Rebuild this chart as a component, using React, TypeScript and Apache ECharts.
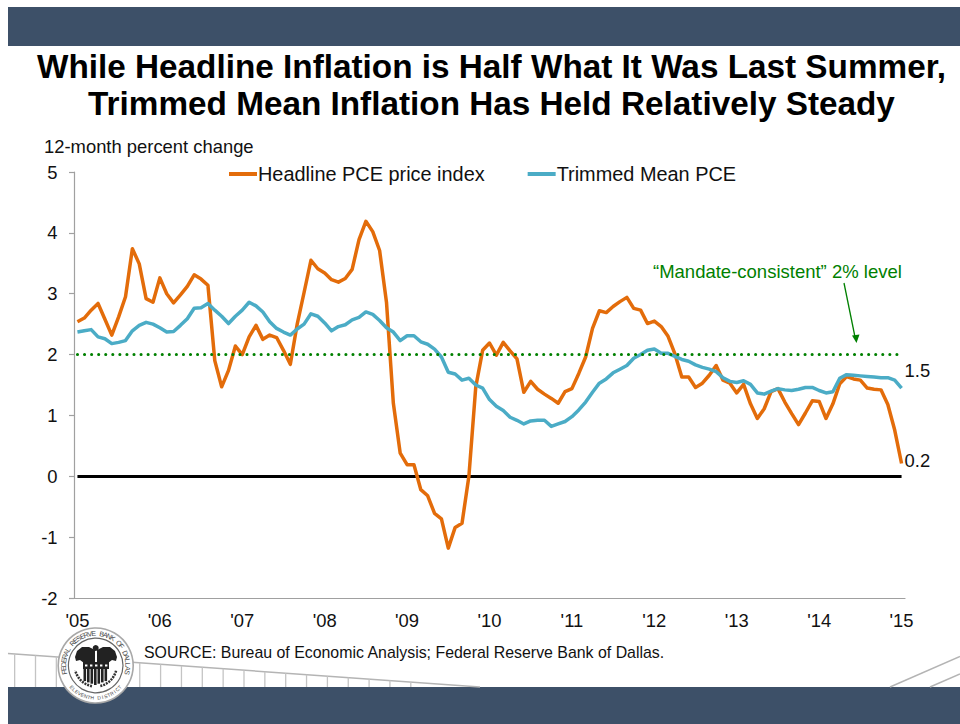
import React, { useEffect, useRef } from "react";
import * as echarts from "echarts";

const FONT = "'Liberation Sans', Arial, sans-serif";

const titleLines = [
  "While Headline Inflation is Half What It Was Last Summer,",
  "Trimmed Mean Inflation Has Held Relatively Steady",
];
const axisCaption = "12-month percent change";
const sourceNote = "SOURCE: Bureau of Economic Analysis; Federal Reserve Bank of Dallas.";
const mandateNote = "\u201CMandate-consistent\u201D 2% level";
const sealTop = "FEDERAL RESERVE BANK OF DALLAS";
const sealBottom = "ELEVENTH DISTRICT";

const years = ["05", "06", "07", "08", "09", "10", "11", "12", "13", "14"];
const monthNames = ["01", "02", "03", "04", "05", "06", "07", "08", "09", "10", "11", "12"];
const categories: string[] = [];
years.forEach((y) => monthNames.forEach((m) => categories.push(`20${y}-${m}`)));
categories.push("2015-01");

const headline = [
  2.54, 2.6, 2.73, 2.84, 2.58, 2.32, 2.62, 2.95, 3.74, 3.49, 2.92, 2.86,
  3.26, 3.0, 2.85, 2.98, 3.12, 3.31, 3.24, 3.14, 1.9, 1.47, 1.74, 2.14,
  2.0, 2.29, 2.48, 2.25, 2.32, 2.28, 2.07, 1.84, 2.5, 3.02, 3.55, 3.41,
  3.34, 3.23, 3.19, 3.25, 3.4, 3.89, 4.19, 4.02, 3.71, 2.86, 1.2, 0.38,
  0.19, 0.19, -0.22, -0.32, -0.61, -0.7, -1.18, -0.84, -0.77, 0.0, 1.47, 2.07,
  2.19, 1.99, 2.2, 2.06, 1.93, 1.38, 1.56, 1.43, 1.35, 1.28, 1.2, 1.39,
  1.44, 1.69, 1.96, 2.43, 2.72, 2.69, 2.79, 2.87, 2.94, 2.76, 2.73, 2.51,
  2.55, 2.46, 2.3, 2.01, 1.63, 1.63, 1.46, 1.53, 1.66, 1.82, 1.58, 1.53,
  1.37, 1.51, 1.19, 0.95, 1.11, 1.39, 1.44, 1.22, 1.03, 0.85, 1.04, 1.24,
  1.23, 0.95, 1.19, 1.52, 1.64, 1.6, 1.58, 1.45, 1.43, 1.42, 1.18, 0.76,
  0.21,
];
const trimmed = [
  2.37, 2.39, 2.41, 2.29, 2.26, 2.18, 2.2, 2.23, 2.39, 2.48, 2.53, 2.5,
  2.44, 2.37, 2.38, 2.48, 2.59, 2.76, 2.77, 2.84, 2.73, 2.63, 2.51, 2.63,
  2.73, 2.86, 2.8, 2.7, 2.54, 2.43, 2.37, 2.32, 2.42, 2.5, 2.67, 2.63,
  2.52, 2.39, 2.46, 2.49, 2.57, 2.61, 2.7, 2.66, 2.56, 2.44, 2.37, 2.23,
  2.31, 2.31, 2.21, 2.17, 2.09, 1.96, 1.71, 1.68, 1.58, 1.61, 1.5, 1.45,
  1.26, 1.15, 1.08, 0.97, 0.92, 0.86, 0.91, 0.92, 0.92, 0.82, 0.86, 0.9,
  0.98, 1.09, 1.22, 1.38, 1.53, 1.6, 1.7, 1.76, 1.82, 1.94, 2.0, 2.07,
  2.09, 2.02, 2.02, 1.97, 1.92, 1.89, 1.83, 1.79, 1.76, 1.72, 1.62, 1.56,
  1.54, 1.57, 1.51, 1.37, 1.35, 1.4, 1.44, 1.42, 1.41, 1.43, 1.46, 1.46,
  1.41, 1.37, 1.39, 1.61, 1.67, 1.66, 1.65, 1.64, 1.63, 1.62, 1.62, 1.58,
  1.45,
];
const headlineEndLabel = "0.2";
const trimmedEndLabel = "1.5";
const mandateLevel = 2;
const zeroLevel = 0;

const NAVY = "#3D5068";
const ORANGE = "#E36C0A";
const TEAL = "#4BACC6";
const GREEN = "#008000";
const RAIL = "#b4b4b4";
const INK = "#111";

function sealLetters(): any[] {
  const cx = 95.7, cy = 665.5, R = 32.2;
  const out: any[] = [];
  const style = { fill: "#444", fontSize: 7, fontFamily: FONT, align: "center", verticalAlign: "middle" };
  const topN = sealTop.length;
  const span = (205 * Math.PI) / 180;
  sealTop.split("").forEach((ch, i) => {
    if (ch === " ") return;
    const a = -span / 2 + (span * i) / (topN - 1);
    out.push({
      type: "text", x: cx + R * Math.sin(a), y: cy - R * Math.cos(a), rotation: -a, z: 12,
      style: { ...style, text: ch },
    });
  });
  const botN = sealBottom.length;
  const span2 = (96 * Math.PI) / 180;
  sealBottom.split("").forEach((ch, i) => {
    if (ch === " ") return;
    const a = -span2 / 2 + (span2 * i) / (botN - 1);
    out.push({
      type: "text", x: cx + R * Math.sin(a), y: cy + R * Math.cos(a), rotation: a, z: 12,
      style: { ...style, text: ch, fontSize: 5 },
    });
  });
  return out;
}

function sealArt(): any[] {
  const z = 11;
  const dark = "#222";
  const out: any[] = [
    { type: "circle", z, shape: { cx: 95.7, cy: 665.5, r: 37.5 }, style: { fill: "#fff", stroke: "#a8a8a8", lineWidth: 1.6 } },
    { type: "circle", z, shape: { cx: 95.7, cy: 665.5, r: 27.3 }, style: { fill: "#fff", stroke: "#666", lineWidth: 1.2 } },
    {
      type: "polygon", z,
      shape: { points: [[95, 650], [89, 647], [82, 647], [77, 651], [75, 657], [76, 661], [80, 660], [84, 663], [95, 663]] },
      style: { fill: dark },
    },
    {
      type: "polygon", z,
      shape: { points: [[97, 650], [103, 647], [110, 647], [115, 651], [117, 657], [116, 661], [112, 660], [108, 663], [97, 663]] },
      style: { fill: dark },
    },
    { type: "circle", z, shape: { cx: 95.7, cy: 648, r: 3 }, style: { fill: dark } },
    { type: "rect", z, shape: { x: 83, y: 662, width: 26, height: 7 }, style: { fill: dark } },
  ];
  [85, 90, 95, 100, 105].forEach((x) =>
    out.push({ type: "rect", z, shape: { x, y: 664.5, width: 2.4, height: 2 }, style: { fill: "#fff" } })
  );
  [83.5, 87, 90.5, 94, 97.5, 101, 104.5].forEach((x, i) =>
    out.push({ type: "rect", z, shape: { x, y: 669, width: 2.6, height: 16 - Math.abs(i - 3) * 1.3 }, style: { fill: dark } })
  );
  out.push(
    { type: "arc", z, shape: { cx: 95.7, cy: 665.5, r: 21, startAngle: 1.75, endAngle: 2.9 }, style: { stroke: "#333", lineWidth: 2.5, fill: "none", lineDash: [2, 1] } },
    { type: "arc", z, shape: { cx: 95.7, cy: 665.5, r: 21, startAngle: 0.25, endAngle: 1.35 }, style: { stroke: "#333", lineWidth: 2.5, fill: "none", lineDash: [2, 1] } }
  );
  return out;
}

function bridge(): any[] {
  const z = 1;
  const out: any[] = [
    { type: "rect", z: 0, shape: { x: 8, y: 7, width: 952, height: 39 }, style: { fill: NAVY } },
    { type: "rect", z: 0, shape: { x: 8, y: 687, width: 952, height: 37 }, style: { fill: NAVY } },
    { type: "line", z, shape: { x1: 8, y1: 653.5, x2: 480, y2: 687 }, style: { stroke: RAIL, lineWidth: 1.5 } },
    { type: "line", z, shape: { x1: 890, y1: 687, x2: 960, y2: 656.5 }, style: { stroke: RAIL, lineWidth: 1.5 } },
    { type: "line", z, shape: { x1: 930, y1: 687, x2: 960, y2: 674 }, style: { stroke: RAIL, lineWidth: 1.5 } },
  ];
  for (let x = 14; x < 425; x += 20.85) {
    const top = 653.5 + ((x - 8) * 33.5) / 472;
    out.push({ type: "rect", z, shape: { x, y: top, width: 1.3, height: 687 - top }, style: { fill: "#c4c4c4" } });
  }
  return out;
}

export default function App() {
  const ref = useRef<HTMLDivElement>(null);
  useEffect(() => {
    document.body.style.margin = "0";
    const chart = echarts.init(ref.current!, undefined, { renderer: "svg" });
    const first = categories[0];
    const last = categories[categories.length - 1];
    const labelStyle = { color: INK, fontFamily: FONT, fontSize: 18.4 };
    chart.setOption({
      animation: false,
      backgroundColor: "#fff",
      title: [
        {
          text: titleLines.join("\n"), left: 486.5, top: 42.5, textAlign: "center",
          textStyle: { color: "#000", fontFamily: FONT, fontWeight: "bold", fontSize: 33.3, lineHeight: 37 },
        },
        { text: axisCaption, left: 44, top: 137, padding: 0, textStyle: { color: INK, fontFamily: FONT, fontWeight: "normal", fontSize: 18.4 } },
        { text: sourceNote, left: 144, top: 644, padding: 0, textStyle: { color: INK, fontFamily: FONT, fontWeight: "normal", fontSize: 15.9 } },
        { text: mandateNote, left: 653, top: 262, padding: 0, textStyle: { color: GREEN, fontFamily: FONT, fontWeight: "normal", fontSize: 18.5 } },
      ],
      legend: {
        left: 229, top: 164, padding: 0, itemGap: 43, itemWidth: 28, itemHeight: 4,
        data: [
          { name: "Headline PCE price index", icon: "rect" },
          { name: "Trimmed Mean PCE", icon: "rect" },
        ],
        textStyle: { color: INK, fontFamily: FONT, fontSize: 19.9, padding: [0, 0, 0, -4] },
      },
      grid: { left: 74, top: 172, width: 831, height: 426, containLabel: false },
      xAxis: {
        type: "category", data: categories, boundaryGap: true,
        axisLine: { onZero: false, lineStyle: { color: "#a0a0a0", width: 1.2 } },
        axisTick: { interval: 11, length: 5, lineStyle: { color: "#a0a0a0", width: 1.2 } },
        axisLabel: { ...labelStyle, interval: 11, margin: 13, formatter: (v: string) => `'${v.slice(2, 4)}` },
        splitLine: { show: false },
      },
      yAxis: {
        type: "value", min: -2, max: 5, interval: 1,
        axisLine: { show: true, lineStyle: { color: "#a0a0a0", width: 1.2 } },
        axisTick: { show: true, length: 5, lineStyle: { color: "#a0a0a0", width: 1.2 } },
        axisLabel: { ...labelStyle, margin: 16.5 },
        splitLine: { show: false },
      },
      series: [
        {
          name: "Headline PCE price index", type: "line", data: headline, showSymbol: false, symbol: "none",
          itemStyle: { color: ORANGE }, z: 3,
          lineStyle: { color: ORANGE, width: 3.5, join: "round" },
          endLabel: { show: true, formatter: () => headlineEndLabel, offset: [0, -3], distance: 3, ...labelStyle },
          markLine: {
            silent: true, symbol: "none", z: 1, label: { show: false },
            lineStyle: { color: "#000", width: 2.8, type: "solid" },
            data: [[{ xAxis: first, yAxis: zeroLevel }, { xAxis: last, yAxis: zeroLevel }]],
          },
        },
        {
          name: "Trimmed Mean PCE", type: "line", data: trimmed, showSymbol: false, symbol: "none",
          itemStyle: { color: TEAL }, z: 4,
          lineStyle: { color: TEAL, width: 3.5, join: "round" },
          endLabel: { show: true, formatter: () => trimmedEndLabel, offset: [0, -18], distance: 3, ...labelStyle },
          markLine: {
            silent: true, symbol: "none", z: 6, label: { show: false },
            lineStyle: { color: GREEN, width: 3, type: [0.1, 6.964], cap: "round" },
            data: [[{ xAxis: first, yAxis: mandateLevel }, { xAxis: last, yAxis: mandateLevel }]],
          },
        },
      ],
      graphic: [
        ...bridge(),
        { type: "line", z: 7, shape: { x1: 844, y1: 283, x2: 855, y2: 337 }, style: { stroke: GREEN, lineWidth: 1.3 } },
        { type: "polygon", z: 7, shape: { points: [[852, 335.5], [859.5, 334.5], [856.5, 343]] }, style: { fill: GREEN } },
        ...sealArt(),
        ...sealLetters(),
      ],
    });
    return () => chart.dispose();
  }, []);
  return <div ref={ref} style={{ position: "absolute", left: 0, top: 0, width: 960, height: 724 }} />;
}
